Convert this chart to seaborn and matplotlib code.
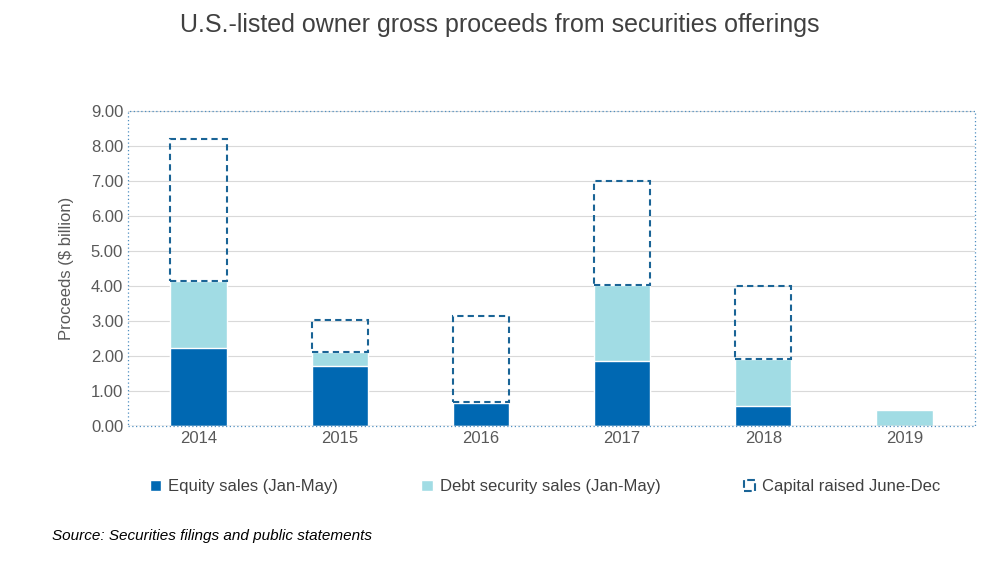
import numpy as np
import pandas as pd
import matplotlib
matplotlib.use("Agg")
import matplotlib.pyplot as plt
import seaborn as sns
from matplotlib.patches import Patch

years = ["2014", "2015", "2016", "2017", "2018", "2019"]
equity = [2.22, 1.72, 0.65, 1.85, 0.57, 0.0]
debt = [1.93, 0.38, 0.03, 2.17, 1.33, 0.45]
june_dec = [4.05, 0.92, 2.45, 2.98, 2.10, 0.0]

sns.set_theme(style="white")
plt.rcParams['font.family'] = ['Liberation Sans', 'DejaVu Sans']

eq_col = "#0068B2"
debt_col = "#A1DCE4"
dash_col = "#1A6496"

fig = plt.figure(figsize=(10, 5.61), dpi=100)
ax = fig.add_axes([0.128, 0.241, 0.847, 0.561])

df = pd.DataFrame({"year": years, "equity": equity, "debt": debt, "jd": june_dec})
df["eq_debt"] = df["equity"] + df["debt"]
w = 0.4
sns.barplot(data=df, x="year", y="eq_debt", color=debt_col, width=w, ax=ax, saturation=1)
sns.barplot(data=df, x="year", y="equity", color=eq_col, width=w, ax=ax, saturation=1)
x = np.arange(len(years))
for i in range(len(years)):
    if june_dec[i] > 0:
        ax.bar(x[i], june_dec[i], bottom=df["eq_debt"][i], width=w, fill=False,
               edgecolor=dash_col, linestyle=(0, (3, 2)), linewidth=1.5)

ax.set_ylim(0, 9)
ax.set_xlim(-0.5, 5.5)
ax.set_yticks(np.arange(0, 9.01, 1))
ax.set_yticklabels([f"{v:.2f}" for v in np.arange(0, 9.01, 1)])
ax.yaxis.grid(True, color="#D9D9D9", linewidth=0.8)
ax.set_axisbelow(True)
ax.set_xlabel("")
ax.set_ylabel("Proceeds ($ billion)", fontsize=12, color="#595959", labelpad=12)
ax.tick_params(axis="both", labelsize=12, colors="#595959", length=0)
for s in ax.spines.values():
    s.set_visible(False)
ax.axhline(0, color="#BFBFBF", linewidth=1)

# dotted plot-area border
border = plt.Rectangle((0.128, 0.241 - 0.0), 0.847, 0.561 + 0.0, transform=fig.transFigure,
                       fill=False, edgecolor="#4F8FC0", linestyle=(0, (1, 2)), linewidth=0.9)
fig.add_artist(border)

fig.text(0.5, 0.955, "U.S.-listed owner gross proceeds from securities offerings",
         ha="center", va="center", fontsize=18, color="#404040")

handles = [Patch(facecolor=eq_col, label="Equity sales (Jan-May)"),
           Patch(facecolor=debt_col, label="Debt security sales (Jan-May)"),
           Patch(facecolor="white", edgecolor=dash_col, linestyle="--", linewidth=1.5,
                 label="Capital raised June-Dec")]
fig.legend(handles=handles, loc="center", bbox_to_anchor=(0.545, 0.132), ncol=3,
           frameon=False, fontsize=12, handlelength=0.7, handleheight=0.7,
           columnspacing=5, handletextpad=0.4, labelcolor="#404040")

fig.text(0.052, 0.045, "Source: Securities filings and public statements",
         fontsize=11, style="italic", color="#000000", va="center")

fig.savefig("out.png", dpi=100)
